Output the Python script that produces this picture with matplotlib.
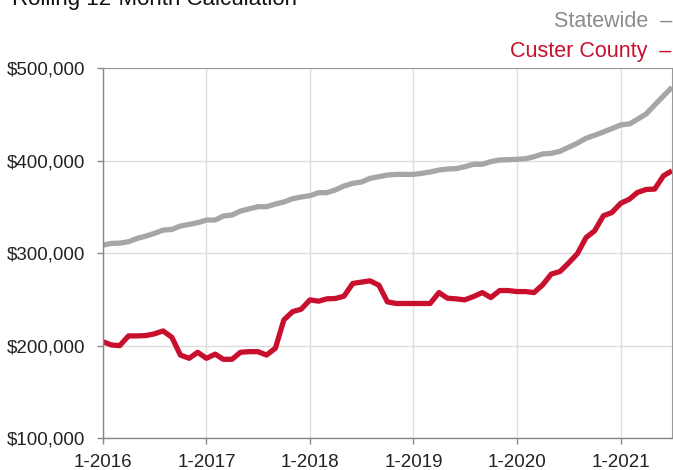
import numpy as np
import pandas as pd
import matplotlib
matplotlib.use("Agg")
import matplotlib.pyplot as plt

plt.rcParams['font.family'] = ['Liberation Sans', 'DejaVu Sans']

# monthly rolling 12-month median sales price, in $1000s
months = pd.date_range("2016-01-01", "2021-07-01", freq="MS")

statewide = [308.8, 310.6, 310.9, 312.4, 316.0, 318.5, 321.4, 325.0, 325.7, 329.4,
             331.2, 333.0, 335.9, 335.9, 340.2, 341.3, 345.6, 348.0, 350.3, 350.3,
             353.2, 355.4, 359.0, 360.8, 362.3, 365.5, 365.5, 368.5,
             372.7, 375.6, 377.0, 381.0, 382.8, 384.6, 385.3, 385.3, 385.3, 386.5,
             387.9, 390.0, 391.1, 391.5, 393.6, 396.2, 396.2, 399.1, 400.9, 401.2,
             401.6, 402.3, 404.4, 407.4, 408.1, 410.3, 414.6, 419.0, 424.4, 427.6,
             431.2, 434.8, 438.8, 439.9, 444.9, 450.7, 460.4, 470.2, 479.6]

custer = [204.3, 200.7, 200.0, 210.5, 210.5, 210.9, 212.7, 215.9, 209.0, 189.8,
          186.3, 192.8, 186.3, 190.8, 185.2, 185.2, 192.8, 193.5, 193.5, 189.8,
          197.2, 227.8, 236.8, 239.4, 249.5,
          248.1, 250.6, 251.0, 253.5, 267.3, 268.7, 270.1, 265.4, 247.4, 245.6,
          245.6, 245.6, 245.6, 245.6,
          257.4, 251.3, 250.6, 249.5, 253.1, 257.4, 252.0, 259.6, 259.6, 258.5, 258.5,
          257.4, 265.8, 277.4, 280.2, 289.3, 299.4, 317.0, 324.2, 340.5, 344.0,
          354.0, 358.5, 365.7, 369.0, 369.4, 383.8, 389.2]

y_ticks = [100, 200, 300, 400, 500]
x_tick_years = [2016, 2017, 2018, 2019, 2020, 2021]

gray = "#a6a6a6"
red = "#c8102e"

fig = plt.figure(figsize=(6.73, 4.70), dpi=100)
ax = fig.add_axes([0.1526, 0.068, 0.8459, 0.7865])

ax.plot(months, statewide, color=gray, lw=3.8, solid_joinstyle="round", solid_capstyle="butt")
ax.plot(months, custer, color=red, lw=3.8, solid_joinstyle="round", solid_capstyle="butt")

ax.set_xlim(months[0], months[-1])
ax.set_ylim(100, 500)
ax.set_yticks(y_ticks)
ax.set_yticklabels([f"${v * 1000:,.0f}" for v in y_ticks])
xt = [pd.Timestamp(f"{y}-01-01") for y in x_tick_years]
ax.set_xticks(xt)
ax.set_xticklabels([f"1-{y}" for y in x_tick_years])

ax.grid(True, color="#dddddd", lw=1)
ax.set_axisbelow(True)
for s in ["left", "bottom"]:
    ax.spines[s].set_color("#888888")
    ax.spines[s].set_linewidth(1)
for s in ["top", "right"]:
    ax.spines[s].set_color("#999999")
    ax.spines[s].set_linewidth(0.8)
ax.tick_params(axis="both", direction="out", length=4.5, width=1, color="#888888",
               labelsize=13.5, labelcolor="#222222")
ax.tick_params(axis="x", pad=7)
ax.tick_params(axis="y", pad=8)

# title, cut off at top edge like the reference
fig.text(0.018, 1 - 4.5 / 470, "Rolling 12-Month Calculation", fontsize=16,
         color="#111111", va="baseline", ha="left")

# legend as text
fig.text(672 / 673, 1 - 27 / 470, "Statewide  \u2013", fontsize=15.5, color="#8c8c8c",
         va="baseline", ha="right")
fig.text(672 / 673, 1 - 57 / 470, "Custer County  \u2013", fontsize=15.5, color=red,
         va="baseline", ha="right")

fig.savefig("out.png", dpi=100)
